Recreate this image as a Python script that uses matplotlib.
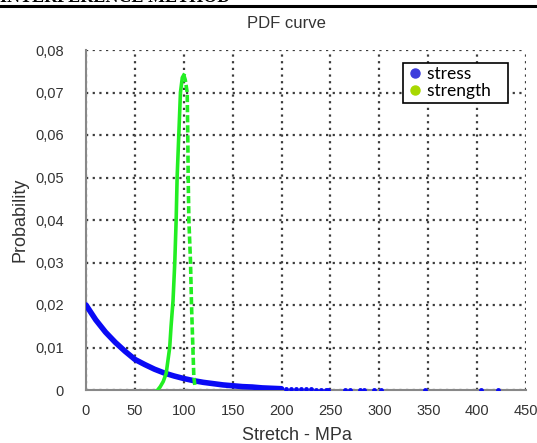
import matplotlib.pyplot as plt
from matplotlib.lines import Line2D

# stress pdf (dense part of the blue curve)
stress_x = [0, 10, 20, 30, 40, 50, 60, 70, 80, 90, 100, 110, 120, 130, 140,
            150, 160, 170, 180, 190, 200]
stress_y = [0.0200, 0.0165, 0.0136, 0.0112, 0.0091, 0.0072, 0.0060, 0.0049,
            0.0040, 0.0033, 0.0027, 0.0022, 0.0018, 0.0015, 0.0012, 0.0010,
            0.0008, 0.0007, 0.0005, 0.0004, 0.0003]
# sparse blue points in the tail
tail_x = [205, 210, 215, 220, 225, 230, 235, 240, 245, 248, 265, 270, 280,
          284, 295, 302, 347, 404, 421]
tail_y = [0.0003, 0.0003, 0.0002, 0.0002, 0.0002, 0.0002, 0.0001, 0.0001,
          0.0001, 0.0001, 0.0001, 0.0001, 0.0001, 0.0001, 0.0, 0.0, 0.0,
          0.0, 0.0]

# strength pdf, rising side and falling side
strength_up_x = [73.3, 76, 79, 82, 85.6, 87, 89, 90.8, 92.2, 93.2, 94.9,
                 96.6, 98.5, 100]
strength_up_y = [0.0, 0.0008, 0.0020, 0.0039, 0.0100, 0.0150, 0.0210,
                 0.0300, 0.0400, 0.0500, 0.0600, 0.0700, 0.0735, 0.0741]
strength_down_x = [100, 101.5, 103.5, 104.1, 104.5, 105.2, 106.9, 107.9,
                   109.3, 110.3, 111.3]
strength_down_y = [0.0741, 0.0730, 0.0700, 0.0600, 0.0500, 0.0400, 0.0300,
                   0.0200, 0.0100, 0.0030, 0.0012]

x_ticks = [0, 50, 100, 150, 200, 250, 300, 350, 400, 450]
y_ticks = [0, 0.01, 0.02, 0.03, 0.04, 0.05, 0.06, 0.07, 0.08]
y_tick_labels = ['0', '0,01', '0,02', '0,03', '0,04', '0,05', '0,06', '0,07', '0,08']

W, H = 537, 443
fig = plt.figure(figsize=(W / 100, H / 100), dpi=100)
ax = fig.add_axes([86 / W, 1 - 390 / H, 440 / W, 340 / H])

text_color = '#333333'
font = 'Liberation Sans'

# header of the document page, cut off at the top
fig.text(0.0, 1 - 1.5 / H, 'INTERFERENCE METHOD', ha='left', va='baseline',
         fontsize=13, fontweight='bold', family='Liberation Serif', color='black')
fig.add_artist(Line2D([0, 1], [1 - 6 / H, 1 - 6 / H], color='black', lw=2.2))

# curves
ax.plot(stress_x, stress_y, color='#0a0af5', lw=4.0, solid_capstyle='round', zorder=3)
ax.plot(tail_x, tail_y, 'o', color='#0a0af5', ms=3.5, mec='none', zorder=3)
ax.plot(strength_up_x, strength_up_y, color='#22ee22', lw=2.6, zorder=4)
ax.plot(strength_down_x, strength_down_y, color='#22ee22', lw=2.6,
        linestyle=(0, (2, 0.8)), zorder=4)

ax.set_xlim(0, 450)
ax.set_ylim(0, 0.08)
ax.set_xticks(x_ticks)
ax.set_yticks(y_ticks)
ax.set_yticklabels(y_tick_labels)
ax.tick_params(length=0, labelsize=10.5, colors=text_color)
ax.tick_params(axis='y', pad=16)
ax.tick_params(axis='x', pad=10)
for lab in ax.get_xticklabels() + ax.get_yticklabels():
    lab.set_family(font)

ax.grid(True, color='#3c3c3c', lw=1.6, linestyle=(0, (1, 2)))
ax.spines['top'].set_visible(False)
ax.spines['right'].set_visible(False)
ax.spines['left'].set_color('#888888')
ax.spines['bottom'].set_color('#888888')
ax.spines['left'].set_linewidth(1.5)
ax.spines['bottom'].set_linewidth(1.5)
ax.set_axisbelow(True)

ax.set_title('PDF curve', fontsize=12, family=font, color=text_color,
             x=(286 - 86) / 440, pad=16)
ax.set_xlabel('Stretch - MPa', fontsize=13, family=font, color=text_color)
ax.xaxis.set_label_coords((297 - 86) / 440, -(427 - 390) / 340)
ax.set_ylabel('Probability', fontsize=13, family=font, color=text_color)
ax.yaxis.set_label_coords(-(86 - 28) / 440, 0.5)

# trailing spaces give the wider right margin of the original legend box
handles = [
    Line2D([], [], marker='o', ls='none', color='#3c3cdc', ms=6.5, label='stress   '),
    Line2D([], [], marker='o', ls='none', color='#a8d800', ms=6.5, label='strength   '),
]
leg = ax.legend(handles=handles, loc='upper right',
                bbox_to_anchor=((508 - 86) / 440, (390 - 63) / 340),
                fancybox=False, framealpha=1, edgecolor='black',
                prop={'family': 'Lato', 'size': 12.5}, handletextpad=0.2,
                handlelength=1.0, borderpad=0.2, labelspacing=0.05,
                borderaxespad=0)
leg.get_frame().set_linewidth(1.2)

fig.savefig('out.png', dpi=100)
